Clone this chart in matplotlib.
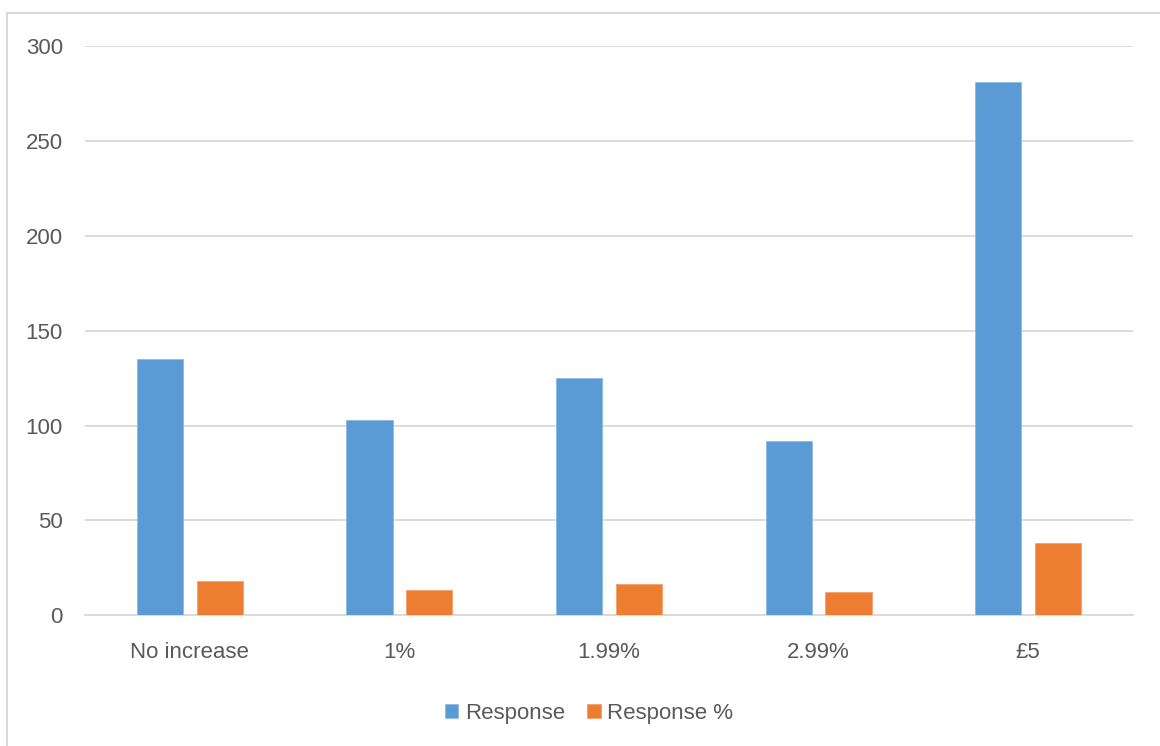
import matplotlib.pyplot as plt
from matplotlib.patches import Rectangle
import numpy as np

categories = ['No increase', '1%', '1.99%', '2.99%', '£5']
response = [135, 103, 125, 92, 281]
response_pct = [18.0, 13.3, 16.4, 12.5, 38.0]

BLUE = '#5B9BD5'
ORANGE = '#ED7D31'
GRID = '#D9D9D9'
TEXT = '#595959'
FONT = ['Liberation Sans Narrow', 'Liberation Sans', 'DejaVu Sans']
FS = 16
WIDTH_BAR = 0.22
OFFSET = 0.1425

plt.rcParams['font.family'] = FONT

fig = plt.figure(figsize=(11.6, 7.46), dpi=100)
ax = fig.add_axes([85 / 1160, 1 - 615.3 / 746, 1048 / 1160, 569.3 / 746])

# outer chart border
fig.patches.append(Rectangle((7 / 1160, -0.05), 1.1, 1 - 12.7 / 746 + 0.05,
                             transform=fig.transFigure, fill=False,
                             edgecolor=GRID, linewidth=1.5))

x = np.arange(len(categories))
ax.bar(x - OFFSET, response, width=WIDTH_BAR, color=BLUE, label='Response',
       edgecolor='#8DB9E3', linewidth=0.6, zorder=3)
ax.bar(x + OFFSET, response_pct, width=WIDTH_BAR, color=ORANGE, label='Response %',
       edgecolor='#F3A06E', linewidth=0.6, zorder=3)

ax.set_xlim(-0.5, len(categories) - 0.5)
ax.set_ylim(0, 300)
ax.set_yticks(range(0, 301, 50))
ax.yaxis.grid(True, color=GRID, linewidth=1.3, zorder=0)
ax.set_axisbelow(True)

for s in ['top', 'right', 'left']:
    ax.spines[s].set_visible(False)
ax.spines['bottom'].set_color(GRID)
ax.spines['bottom'].set_linewidth(1.3)

ax.set_xticks(x)
ax.set_xticklabels(categories)
ax.tick_params(axis='both', length=0, labelsize=FS, labelcolor=TEXT)
ax.tick_params(axis='y', pad=16)
ax.tick_params(axis='x', pad=19)

fig.legend(loc='center', bbox_to_anchor=(589 / 1160, 1 - 713 / 746), ncol=2,
           frameon=False, fontsize=FS, labelcolor=TEXT, handlelength=0.6,
           handleheight=0.6, handletextpad=0.3, columnspacing=1.0)

fig.savefig('out.png', dpi=100)
